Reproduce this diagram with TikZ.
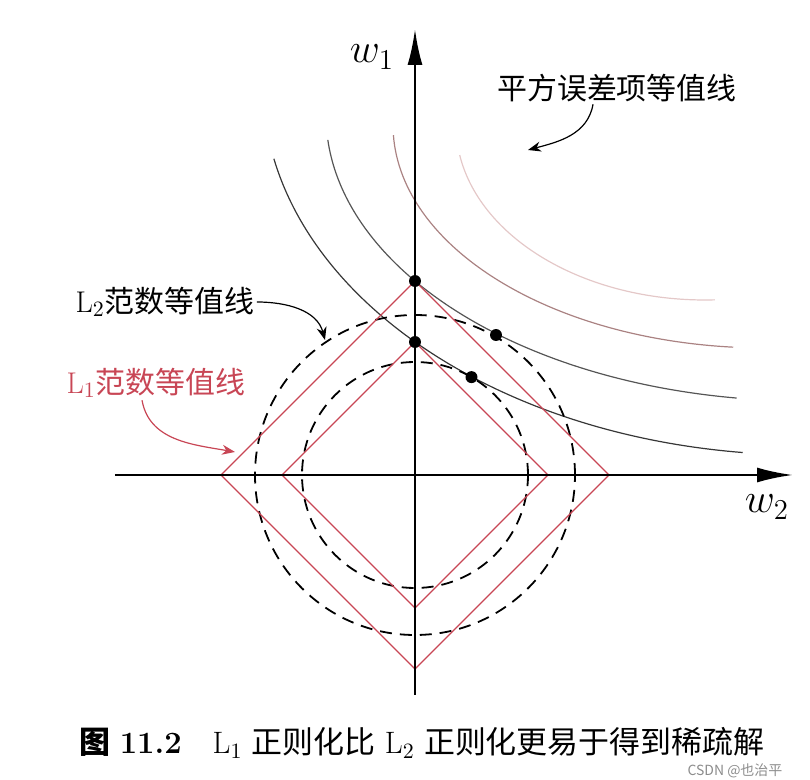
\documentclass[tikz,border=0pt]{standalone}
\usepackage{fontspec}
\newfontfamily\cjk{Noto Sans CJK SC}
\usetikzlibrary{calc,arrows.meta}

\definecolor{normred}{RGB}{200,70,85}
\definecolor{errone}{RGB}{55,55,55}
\definecolor{errtwo}{RGB}{85,85,85}
\definecolor{errthree}{RGB}{170,130,130}
\definecolor{errfour}{RGB}{228,200,200}

\begin{document}
\begin{tikzpicture}[x=1.76cm, y=1.76cm,
    axis/.style={line width=1.3pt, -{Latex[length=18pt,width=7.5pt]}},
    lone/.style={normred, line width=0.7pt},
    ltwo/.style={black, line width=0.9pt, dash pattern=on 6pt off 4pt},
    contour/.style={line width=0.6pt},
    dot/.style={circle, fill=black, inner sep=0pt, minimum size=6pt},
    note/.style={inner sep=1pt, font=\fontsize{15}{18}\selectfont},
    pointer/.style={line width=0.6pt, -{Stealth[length=6.5pt,width=5pt]}}]

    \useasboundingbox (-4.15,-3.05) rectangle (3.95,4.75);

    % Define coordinates for the axes
    \coordinate (O) at (0, 0);
    \coordinate (W1lo) at (0, -2.20);
    \coordinate (W1hi) at (0, 4.46);
    \coordinate (W2lo) at (-3.00, 0);
    \coordinate (W2hi) at (3.78, 0);

    % Corners of the two L1 balls
    \coordinate (Bt) at (0, 1.94);
    \coordinate (Br) at (1.94, 0);
    \coordinate (Bb) at (0, -1.94);
    \coordinate (Bl) at (-1.94, 0);
    \coordinate (St) at (0, 1.33);
    \coordinate (Sr) at (1.33, 0);
    \coordinate (Sb) at (0, -1.33);
    \coordinate (Sl) at (-1.33, 0);

    % Touching points on the L2 balls
    \coordinate (Bc) at (0.81, 1.40);
    \coordinate (Sc) at (60:1.13);

    % Centres of the squared error contours
    \coordinate (E1) at (3.9, 3.9);
    \coordinate (E2) at (3.9, 3.6);
    \coordinate (E3) at (3.5, 3.5);
    \coordinate (E4) at (2.9, 3.5);

    % Squared error contours
    \draw[contour, errfour] ($(E4)+(189.9:2.49 and 1.75)$)
        arc[start angle=189.9, end angle=272.3, x radius=2.49, y radius=1.75];
    \draw[contour, errthree] ($(E3)+(182.6:3.72 and 2.23)$)
        arc[start angle=182.6, end angle=265.1, x radius=3.72, y radius=2.23];
    \draw[contour, errtwo] ($(E2)+(185.0:4.79 and 2.86)$)
        arc[start angle=185.0, end angle=261.8, x radius=4.79, y radius=2.86];
    \draw[contour, errone] ($(E1)+(191.5:5.42 and 3.7)$)
        arc[start angle=191.5, end angle=263.4, x radius=5.42, y radius=3.7];

    % L2 norm contours
    \draw[ltwo] (O) circle[radius=1.60];
    \draw[ltwo] (O) circle[radius=1.13];

    % L1 norm contours
    \draw[lone] (Bt) -- (Br) -- (Bb) -- (Bl) -- cycle;
    \draw[lone] (St) -- (Sr) -- (Sb) -- (Sl) -- cycle;

    % Axes
    \draw[axis] (W1lo) -- (W1hi);
    \draw[axis] (W2lo) -- (W2hi);
    \node[font=\fontsize{20}{24}\selectfont] (w1) at (-0.43, 4.18) {$w_1$};
    \node[font=\fontsize{20}{24}\selectfont] (w2) at (3.52, -0.32) {$w_2$};

    % Solutions
    \node[dot] (p1) at (Bt) {};
    \node[dot] (p2) at (St) {};
    \node[dot] (p3) at (Bc) {};
    \node[dot] (p4) at (Sc) {};

    % Labels with pointers
    \node[note] (errlabel) at (2.02, 3.87) {\cjk 平方误差项等值线};
    \coordinate (errtip) at (1.13, 3.25);
    \draw[pointer] ([xshift=-12pt]errlabel.south) to[out=-100, in=15] (errtip);

    \node[note] (l2label) at (-2.50, 1.73) {L$_2${\cjk 范数等值线}};
    \coordinate (l2tip) at (-0.90, 1.35);
    \draw[pointer] (l2label.east) to[out=0, in=105] (l2tip);

    \node[note, normred] (l1label) at (-2.59, 0.92) {L$_1${\cjk 范数等值线}};
    \coordinate (l1tip) at (-1.80, 0.23);
    \draw[pointer, normred] ([xshift=-7pt]l1label.south) to[out=-80, in=170] (l1tip);

    % Caption
    \node[font=\fontsize{15.5}{18}\selectfont] (caption) at (0.07, -2.68)
        {{\bfseries\cjk 图} \textbf{11.2}\quad L$_1$ {\cjk 正则化比} L$_2$ {\cjk 正则化更易于得到稀疏解}};
    \node[black!45, font=\fontsize{7}{8}\selectfont\cjk] (mark) at (3.20, -2.96) {CSDN @也治平};

\end{tikzpicture}
\end{document}
